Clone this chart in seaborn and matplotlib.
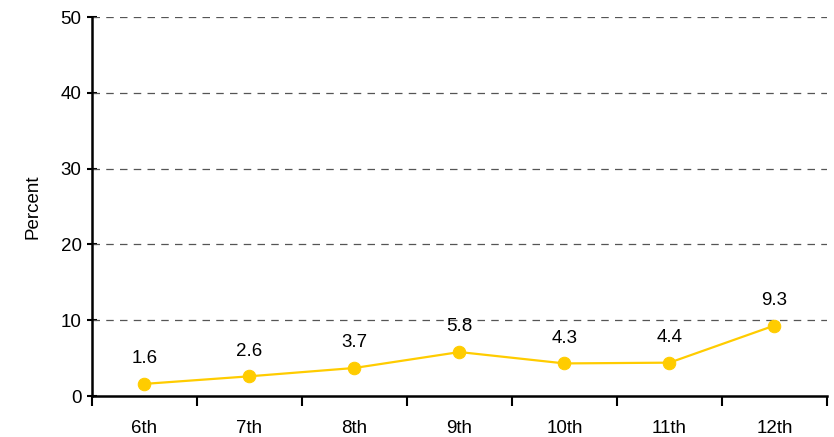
"""
Line chart of percent by grade, with value labels above each point.
"""

import matplotlib.pyplot as plt
import numpy as np
import pandas as pd
import seaborn as sns

GRADES: list[str] = ["6th", "7th", "8th", "9th", "10th", "11th", "12th"]
PERCENT_VALUES: list[float] = [1.6, 2.6, 3.7, 5.8, 4.3, 4.4, 9.3]
Y_TICKS: list[int] = [0, 10, 20, 30, 40, 50]

LINE_COLOR: str = "#FFCC00"
FONT_SIZE: float = 13.5


def create_grade_line_chart() -> None:
    """Draw the line chart and save it as out.png."""
    sns.set_style("white")
    plt.rcParams["font.family"] = ["Liberation Sans", "DejaVu Sans"]

    data = pd.DataFrame({"Grade": GRADES, "Percent": PERCENT_VALUES})

    fig = plt.figure(figsize=(8.34, 4.37), dpi=100)
    ax = fig.add_axes([0.1103, 0.0938, 0.8813, 0.8672])

    sns.lineplot(
        data=data,
        x="Grade",
        y="Percent",
        color=LINE_COLOR,
        linewidth=1.6,
        marker="o",
        markersize=9,
        markeredgecolor=LINE_COLOR,
        ax=ax,
        zorder=3,
    )

    for i, value in enumerate(data["Percent"]):
        ax.annotate(
            f"{value:.1f}",
            xy=(i, value),
            xytext=(0, 12),
            textcoords="offset points",
            ha="center",
            va="bottom",
            fontsize=FONT_SIZE,
            color="black",
        )

    ax.set_xlim(-0.5, len(GRADES) - 0.5)
    ax.set_ylim(0, 50)
    ax.set_yticks(Y_TICKS)
    ax.set_yticklabels([str(t) for t in Y_TICKS], fontsize=FONT_SIZE,
                       color="black")

    # category labels centred, tick marks on the category boundaries
    ax.set_xticks(range(len(GRADES)))
    ax.set_xticklabels(GRADES, fontsize=FONT_SIZE, color="black")
    ax.set_xticks(np.arange(-0.5, len(GRADES)), minor=True)
    ax.tick_params(axis="x", which="major", bottom=True, length=0, pad=17)
    ax.tick_params(axis="x", which="minor", bottom=True, length=7,
                   width=1.5, direction="out", color="black")
    ax.tick_params(axis="y", left=True, length=7, width=1.5,
                   direction="inout", color="black", pad=4)

    for y in Y_TICKS[1:]:
        ax.axhline(y, color="#555555", linestyle=(0, (6, 5)),
                   linewidth=0.9, zorder=1)

    for side in ["top", "right"]:
        ax.spines[side].set_visible(False)
    for side in ["left", "bottom"]:
        ax.spines[side].set_color("black")
        ax.spines[side].set_linewidth(1.8)

    ax.set_xlabel("")
    ax.set_ylabel("Percent", fontsize=FONT_SIZE, color="black", labelpad=14)

    fig.savefig("out.png", dpi=100)


if __name__ == "__main__":
    create_grade_line_chart()
